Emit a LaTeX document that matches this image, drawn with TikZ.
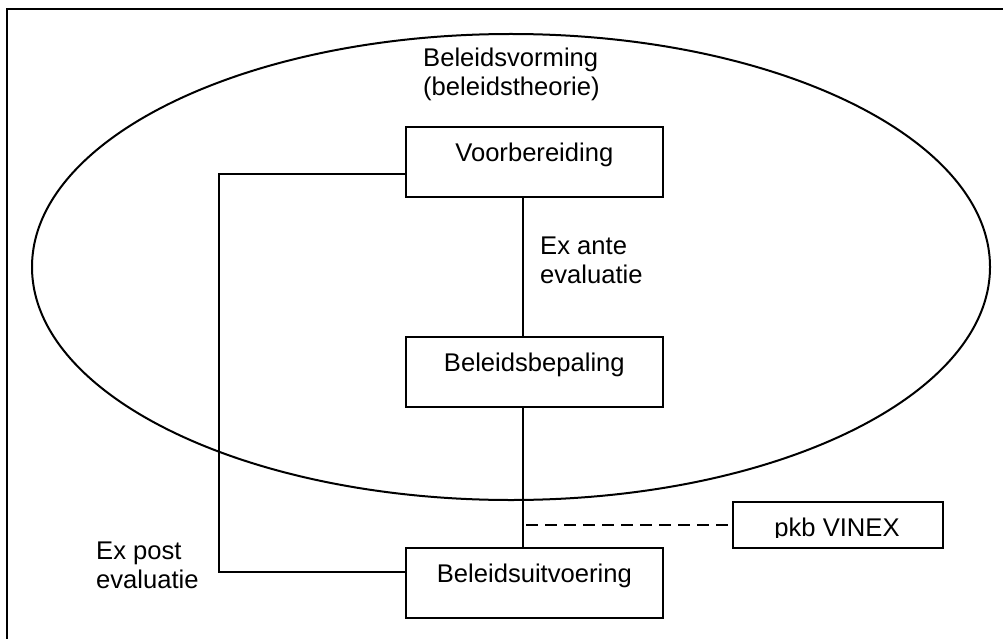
\documentclass[tikz,border=0pt]{standalone}
\usepackage{fontspec}
\setmainfont{Liberation Sans}
\usetikzlibrary{shapes.geometric}
\begin{document}
\begin{tikzpicture}[x=1pt,y=-1pt,
  every node/.style={font=\fontsize{25.6}{29}\selectfont, inner sep=0pt},
  wire/.style={line width=2pt},
  stagebox/.style={draw, line width=2pt, minimum width=257pt,
    text height=34.5pt, text depth=35.5pt, anchor=base},
  note/.style={anchor=base west, align=left},
  linkdash/.style={wire, dash pattern=on 12pt off 7pt}]
  \useasboundingbox (0,0) rectangle (1003,639);

  % page frame (only its top and left edges fall on the page)
  \draw[line width=2.5pt] (7,639) -- (7,9) -- (1003,9);

  % policy-making domain
  \node[draw, line width=2pt, ellipse, minimum width=958pt, minimum height=466pt]
    (vorming) at (511,267) {};
  % two-line notes are placed by the baseline of their last line
  \node[note] (vormingtxt) at (423,96) {Beleidsvorming\\(beleidstheorie)};

  % stages of the policy cycle
  \node[stagebox] (vb) at (534.35,161.5) {Voorbereiding};
  \node[stagebox] (bp) at (534.35,371.5) {Beleidsbepaling};
  \node[stagebox] (bu) at (534.35,582.5) {Beleidsuitvoering};

  % plan box, its caption cut off at the bottom
  \node[draw, line width=2pt, minimum width=210pt, minimum height=46pt]
    (pkb) at (838,525) {};
  \begin{scope}
    \clip (733,502) rectangle (943,537.5);
    \node[anchor=base] (pkbtxt) at (837,536.7) {pkb VINEX};
  \end{scope}

  % vertical spine between the stages
  \coordinate (spine) at (523,0);
  \draw[wire] (vb.south -| spine) -- (bp.north -| spine);
  \draw[wire] (bp.south -| spine) -- (bu.north -| spine);

  % dashed link to the plan
  \coordinate (dashstart) at (526,525);
  \draw[linkdash] (dashstart) -- (pkb.west |- dashstart);

  % feedback loop on the left
  \coordinate (loopTop) at (219,174);
  \coordinate (loopBot) at (219,572);
  \draw[wire] (vb.west |- loopTop) -- (loopTop) -- (loopBot) -- (bu.west |- loopBot);

  % evaluation labels
  \node[note] (exante) at (540,283) {Ex ante\\evaluatie};
  \node[note] (expost) at (96,588) {Ex post\\evaluatie};
\end{tikzpicture}
\end{document}
